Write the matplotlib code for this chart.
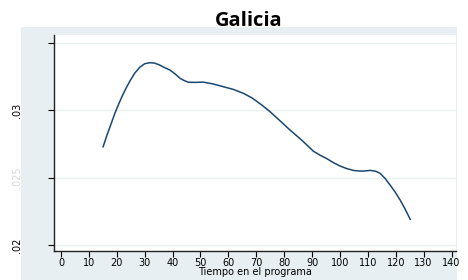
import matplotlib.pyplot as plt
from matplotlib.patches import Rectangle

# smoothed curve
tiempo = [15.1, 16.5, 18.0, 19.4, 20.8, 22.2, 23.6, 25.0, 26.5, 28.3, 30.0,
          31.9, 33.5, 35.2, 37.0, 39.1, 41.0, 42.7, 44.2, 45.7, 48.0, 51.0,
          54.6, 58.2, 61.8, 65.4, 68.4, 72.0, 75.0, 78.6, 82.1, 85.7, 88.0,
          90.5, 93.0, 95.3, 97.7, 100.1, 102.5, 104.8, 106.6, 108.4, 110.8,
          112.8, 114.4, 116.2, 118.0, 119.8, 121.6, 123.4, 125.2]
valor = [.02728, .02815, .02900, .02980, .03050, .03115, .03173, .03225,
         .03275, .03318, .03343, .03351, .03348, .03335, .03316, .03296,
         .03266, .03235, .03218, .03206, .03205, .03207, .03193, .03173,
         .03153, .03124, .03091, .03037, .02987, .02919, .02852, .02788,
         .02744, .02695, .02664, .02640, .02610, .02585, .02566, .02553,
         .02549, .02548, .02553, .02547, .02531, .02493, .02444, .02392,
         .02333, .02265, .02190]

xticks = list(range(0, 150, 10))
yticks = [.02, .025, .03, .035]
ylabels = ['.02', '.025', '.03', '']

W, H = 468, 280
fig = plt.figure(figsize=(W / 100, H / 100), dpi=100)
fig.patch.set_facecolor('white')
fig.patches.append(Rectangle((21 / W, 0), 436 / W, 253 / H, transform=fig.transFigure,
                             facecolor='#e8eff2', edgecolor='none', zorder=-10))

ax = fig.add_axes([54 / W, 29 / H, 402 / W, 216 / H])
ax.set_facecolor('white')
ax.plot(tiempo, valor, color='#1a476f', lw=1.1, solid_joinstyle='round')

fnt = dict(fontsize=7, family='DejaVu Sans')
ax.set_xlim(-2.5, 141.6)
ax.set_ylim(0.01956, 0.03556)
ax.set_xticks(xticks)
ax.set_xticklabels([str(t) for t in xticks], **fnt)
ax.set_yticks(yticks)
ax.set_yticklabels(ylabels, rotation=90, va='center', **fnt)
ax.get_yticklabels()[1].set_color('#d4d8da')
ax.tick_params(axis='y', length=4, width=0.8, pad=19)
ax.tick_params(axis='x', length=4, width=0.8, pad=1)
ax.grid(axis='y', color='#eaf1f2', lw=1)
ax.set_axisbelow(True)
for s in ['top', 'right']:
    ax.spines[s].set_visible(False)
for s in ['left', 'bottom']:
    ax.spines[s].set_linewidth(1.0)
    ax.spines[s].set_color('#222222')
ax.set_xlabel('Tiempo en el programa', labelpad=-1, **fnt)

fig.text(249 / W, 1 - 21 / H, 'Galicia', ha='center', va='center', fontsize=14.5,
         fontweight='bold', family='Open Sans')

fig.savefig('out.png', dpi=100)
